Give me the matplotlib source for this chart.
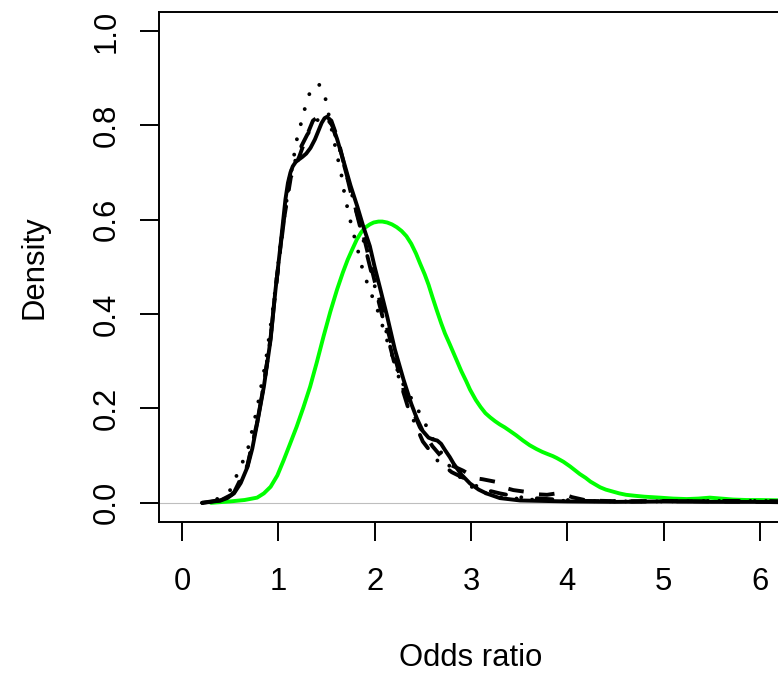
import matplotlib
matplotlib.use("Agg")
import matplotlib.pyplot as plt
import numpy as np

# density curves (x = odds ratio, y = density)
green_x = [0.30, 0.50, 0.65, 0.78, 0.85, 0.92, 0.99, 1.055, 1.12, 1.19, 1.26, 1.33, 1.40, 1.47, 1.54,
           1.61, 1.67, 1.72, 1.77, 1.815, 1.86, 1.90, 1.95, 1.99, 2.04, 2.08, 2.13, 2.18, 2.23, 2.28,
           2.33, 2.38, 2.43, 2.47, 2.52, 2.56, 2.60, 2.645, 2.69, 2.73, 2.78, 2.82, 2.86, 2.90, 2.95,
           2.99, 3.05, 3.10, 3.15, 3.20, 3.25, 3.30, 3.35, 3.40, 3.47, 3.54, 3.61, 3.68, 3.74, 3.80,
           3.85, 3.89, 3.96, 4.03, 4.08, 4.13, 4.19, 4.24, 4.29, 4.34, 4.40, 4.47, 4.54, 4.61, 4.70,
           4.80, 4.88, 4.96, 5.10, 5.24, 5.36, 5.48, 5.60, 5.72, 5.86, 6.00, 6.30]
green_y = [0.000, 0.003, 0.006, 0.011, 0.020, 0.034, 0.058, 0.090, 0.124, 0.161, 0.202, 0.246, 0.298,
           0.353, 0.405, 0.452, 0.488, 0.515, 0.538, 0.558, 0.573, 0.583, 0.590, 0.594, 0.596, 0.596,
           0.594, 0.590, 0.584, 0.576, 0.565, 0.549, 0.528, 0.508, 0.484, 0.462, 0.436, 0.408, 0.381,
           0.359, 0.336, 0.317, 0.298, 0.279, 0.258, 0.240, 0.218, 0.203, 0.190, 0.181, 0.173, 0.166,
           0.160, 0.153, 0.143, 0.132, 0.122, 0.114, 0.108, 0.103, 0.099, 0.095, 0.087, 0.077, 0.069,
           0.061, 0.053, 0.045, 0.039, 0.033, 0.028, 0.024, 0.020, 0.017, 0.015, 0.013, 0.012, 0.011,
           0.009, 0.008, 0.009, 0.011, 0.009, 0.007, 0.006, 0.006, 0.005]

solid_x = [0.21, 0.30, 0.40, 0.47, 0.54, 0.61, 0.68, 0.73, 0.78, 0.85, 0.92, 0.97, 1.022, 1.074, 1.10,
           1.126, 1.15, 1.18, 1.21, 1.25, 1.29, 1.334, 1.38, 1.42, 1.45, 1.48, 1.506, 1.53, 1.56, 1.61,
           1.68, 1.75, 1.82, 1.88, 1.95, 2.00, 2.06, 2.13, 2.21, 2.30, 2.38, 2.44, 2.50, 2.56, 2.61,
           2.65, 2.69, 2.73, 2.78, 2.82, 2.90, 2.99, 3.08, 3.16, 3.30, 3.51, 3.75, 4.00, 4.50, 5.00,
           5.50, 6.00, 6.30]
solid_y = [0.000, 0.002, 0.005, 0.010, 0.020, 0.042, 0.076, 0.115, 0.168, 0.246, 0.346, 0.450, 0.544,
           0.643, 0.678, 0.700, 0.713, 0.722, 0.727, 0.733, 0.740, 0.752, 0.770, 0.790, 0.805, 0.815,
           0.818, 0.813, 0.800, 0.771, 0.722, 0.672, 0.628, 0.587, 0.544, 0.500, 0.452, 0.395, 0.325,
           0.261, 0.210, 0.178, 0.152, 0.138, 0.134, 0.132, 0.125, 0.112, 0.097, 0.083, 0.060, 0.041,
           0.028, 0.020, 0.010, 0.005, 0.004, 0.003, 0.002, 0.003, 0.002, 0.002, 0.001]

dash_x = [0.21, 0.40, 0.54, 0.68, 0.78, 0.85, 0.92, 0.97, 1.05, 1.13, 1.22, 1.29, 1.36, 1.45, 1.55,
          1.62, 1.75, 1.88, 2.00, 2.13, 2.30, 2.47, 2.60, 2.75, 2.92, 3.05, 3.12, 3.27, 3.35, 3.44,
          3.58, 3.70, 3.79, 3.92, 4.05, 4.20, 4.60, 5.00, 5.50, 6.00, 6.30]
dash_y = [0.000, 0.006, 0.022, 0.080, 0.170, 0.250, 0.350, 0.450, 0.590, 0.690, 0.735, 0.775, 0.810,
          0.823, 0.810, 0.770, 0.660, 0.570, 0.470, 0.370, 0.240, 0.160, 0.120, 0.084, 0.068, 0.052,
          0.050, 0.044, 0.032, 0.027, 0.023, 0.018, 0.017, 0.021, 0.012, 0.005, 0.003, 0.004, 0.003,
          0.002, 0.002]

dot_x = [0.21, 0.35, 0.50, 0.57, 0.68, 0.78, 0.87, 0.95, 1.03, 1.10, 1.19, 1.28, 1.33, 1.42, 1.49,
         1.57, 1.66, 1.69, 1.76, 1.85, 1.88, 1.97, 2.02, 2.16, 2.28, 2.45, 2.62, 2.78, 2.95, 3.09,
         3.30, 3.60, 4.00, 4.50, 5.00, 5.50, 6.00, 6.30]
dot_y = [0.000, 0.006, 0.027, 0.059, 0.110, 0.200, 0.300, 0.420, 0.560, 0.660, 0.768, 0.839, 0.871,
         0.888, 0.856, 0.775, 0.690, 0.650, 0.587, 0.516, 0.490, 0.440, 0.415, 0.324, 0.257, 0.197,
         0.130, 0.077, 0.041, 0.024, 0.012, 0.007, 0.004, 0.003, 0.003, 0.004, 0.004, 0.003]

dotdash_x = [0.21, 0.40, 0.54, 0.68, 0.78, 0.85, 0.92, 0.97, 1.05, 1.12, 1.20, 1.30, 1.40, 1.48, 1.56,
             1.65, 1.75, 1.88, 2.00, 2.10, 2.20, 2.35, 2.50, 2.65, 2.80, 2.95, 3.10, 3.30, 3.50, 3.80,
             4.20, 4.60, 5.00, 5.50, 6.00, 6.30]
dotdash_y = [0.000, 0.005, 0.020, 0.078, 0.170, 0.250, 0.350, 0.450, 0.585, 0.690, 0.740, 0.780, 0.810,
             0.820, 0.800, 0.740, 0.665, 0.560, 0.460, 0.380, 0.300, 0.200, 0.130, 0.090, 0.065, 0.050,
             0.030, 0.020, 0.012, 0.008, 0.004, 0.003, 0.003, 0.004, 0.004, 0.003]

x_ticks = [0, 1, 2, 3, 4, 5, 6]
y_ticks = [0.0, 0.2, 0.4, 0.6, 0.8, 1.0]
y_tick_labels = ["0.0", "0.2", "0.4", "0.6", "0.8", "1.0"]

plt.rcParams['font.family'] = ['Liberation Sans', 'DejaVu Sans']
fs = 22.3
lw = 2.8

fig = plt.figure(figsize=(7.78, 6.75), dpi=100)
ax = fig.add_axes([0.2042, 0.2271, 0.8023, 0.7551])
ax.set_xlim(-0.24, 6.24)
ax.set_ylim(-0.04, 1.04)

ax.axhline(0, color="#bebebe", lw=0.8, zorder=1)

ax.plot(green_x, green_y, color="#00ff00", lw=lw, solid_capstyle="round",
        solid_joinstyle="round", zorder=2)
ax.plot(solid_x, solid_y, color="black", lw=lw, solid_capstyle="round",
        solid_joinstyle="round", zorder=3)
ax.plot(dash_x, dash_y, color="black", lw=lw, linestyle=(0, (4, 4)),
        dash_capstyle="butt", zorder=3)
ax.plot(dot_x, dot_y, color="black", lw=lw, linestyle=(0, (0.01, 4)),
        dash_capstyle="round", zorder=3)
ax.plot(dotdash_x, dotdash_y, color="black", lw=lw, linestyle=(0, (0.01, 4, 4, 4)),
        dash_capstyle="round", zorder=3)

for s in ax.spines.values():
    s.set_linewidth(1.4)

ax.set_xticks(x_ticks)
ax.set_xticklabels([str(t) for t in x_ticks], fontsize=fs)
ax.set_yticks(y_ticks)
ax.set_yticklabels(y_tick_labels, fontsize=fs, rotation=90, rotation_mode="anchor",
                   ha="center", va="baseline")
ax.tick_params(axis="both", direction="out", length=13.7, width=1.4)
ax.tick_params(axis="x", pad=19)
ax.tick_params(axis="y", pad=18)

ax.set_xlabel("Odds ratio", fontsize=fs, va="baseline")
ax.xaxis.set_label_coords(0.5, -0.283)
ax.set_ylabel("Density", fontsize=fs, rotation_mode="anchor", ha="center", va="baseline")
ax.yaxis.set_label_coords(-0.187, 0.5)

fig.savefig("out.png", dpi=100)
